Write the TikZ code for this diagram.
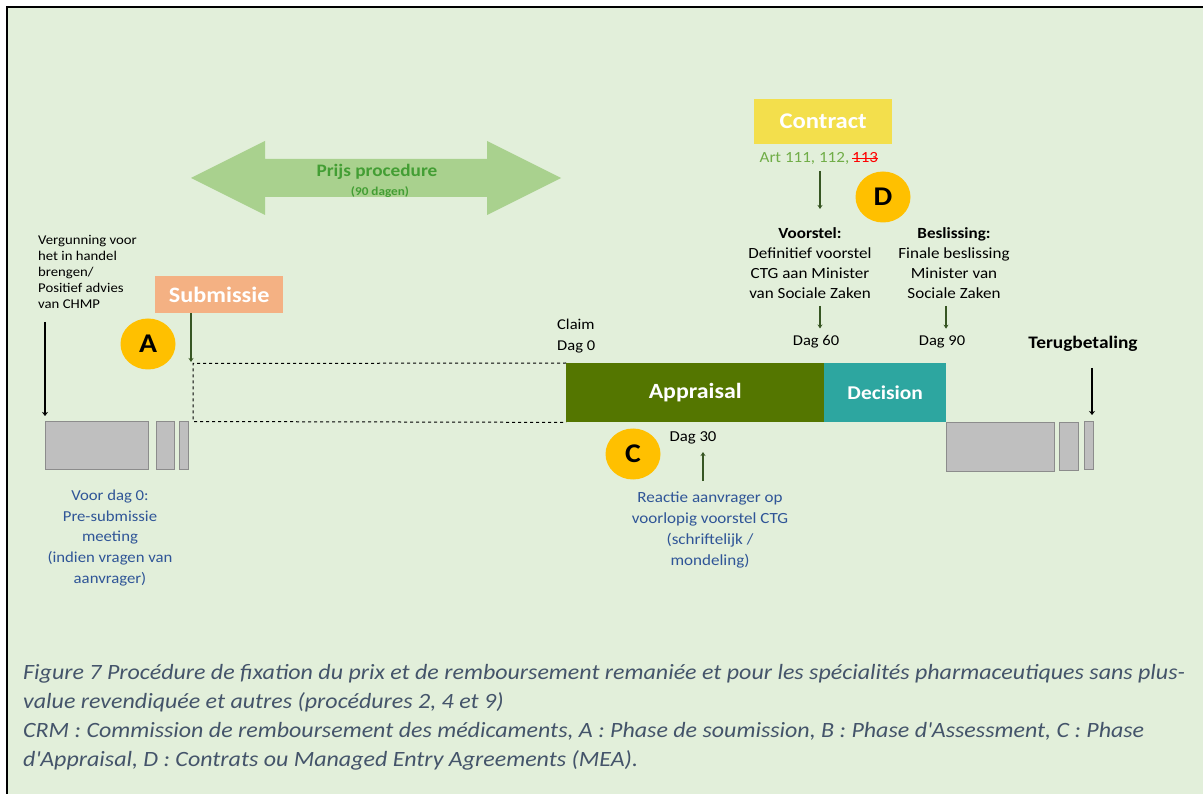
\documentclass[tikz,border=0pt]{standalone}
\usepackage{fontspec}
\setmainfont[FakeStretch=1.1]{Carlito}
\usetikzlibrary{arrows.meta,shapes.geometric}

\definecolor{panel}{HTML}{E2EFDA}
\definecolor{prijsarrow}{HTML}{A9D18E}
\definecolor{prijstext}{RGB}{67,158,52}
\definecolor{boxgray}{HTML}{BFBFBF}
\definecolor{boxedge}{HTML}{8C8C8C}
\definecolor{salmon}{HTML}{F4B183}
\definecolor{gold}{HTML}{FFC000}
\definecolor{olive}{RGB}{84,118,0}
\definecolor{teal}{RGB}{45,166,160}
\definecolor{lemon}{RGB}{243,223,76}
\definecolor{artgreen}{HTML}{70AD47}
\definecolor{darkgreen}{HTML}{375623}
\definecolor{noteblue}{HTML}{2F5597}
\definecolor{captiongray}{HTML}{44546A}

\tikzset{
  graybox/.style={draw=boxedge, line width=1pt, fill=boxgray, inner sep=0pt, anchor=north west},
  phasebox/.style={inner sep=0pt, anchor=north west, text=white, font=\bfseries},
  badge/.style={ellipse, fill=gold, inner sep=0pt, minimum width=55pt, minimum height=51pt, font=\fontsize{27}{27}\selectfont\bfseries},
  plain/.style={inner sep=0pt, text=black},
  greenarrow/.style={draw=darkgreen, line width=1.3pt, -{Stealth[length=4pt,width=5pt]}},
  blackarrow/.style={draw=black, line width=1.4pt, -{Stealth[length=4pt,width=6pt]}},
}

\begin{document}
\begin{tikzpicture}[x=1pt,y=-1pt]
\useasboundingbox (0,0) rectangle (1203,794);
\fill[white] (0,0) rectangle (1203,794);
\fill[panel] (7,7) rectangle (1203,794);
\draw[line width=2.6pt] (7,794) -- (7,7) -- (1203,7);

% price procedure double arrow
\fill[prijsarrow] (191,178) -- (265,141) -- (265,159) -- (487,159) -- (487,141)
  -- (561,178) -- (487,215) -- (487,197) -- (265,197) -- (265,215) -- cycle;
\node[inner sep=0pt, text=prijstext, font=\fontsize{17.5}{17.5}\selectfont\bfseries] (prijs) at (377,172) {Prijs procedure};
\node[inner sep=0pt, text=prijstext, font=\fontsize{12}{12}\selectfont\bfseries] (dagen) at (380,192) {(90 dagen)};

% left: marketing authorisation
\node[plain, anchor=west, align=left, font=\fontsize{13.4}{16}\selectfont] (vergunning) at (38,272)
  {Vergunning voor\\het in handel\\brengen/\\Positief advies\\van CHMP};
\node[graybox, minimum width=103pt, minimum height=48pt] (l1) at (45,421) {};
\node[graybox, minimum width=18pt, minimum height=48pt] (l2) at (156,421) {};
\node[graybox, minimum width=9pt, minimum height=48pt] (l3) at (179,421) {};
\coordinate (vtop) at (45,322);
\draw[blackarrow] (vtop) -- ([yshift=5pt]l1.north west);

% submission
\node[phasebox, fill=salmon, minimum width=128pt, minimum height=37pt, font=\fontsize{22}{22}\selectfont\bfseries] (sub) at (155,276) {Submissie};
\node[badge] (A) at (148,344) {A};
\coordinate (subtop) at (191,313);
\coordinate (subend) at (191,362);
\draw[greenarrow] (subtop) -- (subend);

% appraisal / decision bar
\node[phasebox, fill=olive, minimum width=258pt, minimum height=59pt, font=\fontsize{21.7}{21.7}\selectfont\bfseries] (appr) at (566,363) {Appraisal};
\node[phasebox, fill=teal, minimum width=122pt, minimum height=59pt, font=\fontsize{19.5}{19.5}\selectfont\bfseries] (dec) at (824,363) {Decision};
\draw[dashed, line width=1pt] (appr.north west) -- (193,363.5) -- (193,421.5) -- (appr.south west);

\node[plain, anchor=west, align=left, font=\fontsize{15}{21}\selectfont] (claim) at (557,336) {Claim\\Dag 0};

% contract
\node[phasebox, fill=lemon, minimum width=138pt, minimum height=45pt, font=\fontsize{22.4}{22.4}\selectfont\bfseries] (contract) at (754,99) {Contract};
\node[inner sep=0pt, text=artgreen, font=\fontsize{15.5}{15.5}\selectfont, anchor=base east] (art) at (852,163)
  {Art 111, 112,\,};
\node[inner sep=0pt, text=red, font=\fontsize{15.5}{15.5}\selectfont, anchor=base west] (art113) at (art.base east) {113};
\draw[red, line width=1pt] ([yshift=-0.5pt]art113.west) -- ([yshift=-0.5pt]art113.east);
\node[badge] (D) at (883,197) {D};
\coordinate (arttop) at (820,171);
\coordinate (artend) at (820,209);
\draw[greenarrow] (arttop) -- (artend);

\node[plain, align=center, font=\fontsize{15.5}{20}\selectfont] (voorstel) at (810,263)
  {\textbf{Voorstel:}\\Definitief voorstel\\CTG aan Minister\\van Sociale Zaken};
\node[plain, align=center, font=\fontsize{15.5}{20}\selectfont] (beslissing) at (954,263)
  {\textbf{Beslissing:}\\Finale beslissing\\Minister van\\Sociale Zaken};

\node[plain, font=\fontsize{15}{15}\selectfont] (d60) at (816,342) {Dag 60};
\node[plain, font=\fontsize{15}{15}\selectfont] (d90) at (942,342) {Dag 90};
\coordinate (v60) at (820,306);
\coordinate (v90) at (946,306);
\draw[greenarrow] (v60) -- ([yshift=7pt]d60.north -| v60);
\draw[greenarrow] (v90) -- ([yshift=7pt]d90.north -| v90);

% appraisal response
\node[badge] (C) at (633,454) {C};
\node[plain, font=\fontsize{15.2}{15.2}\selectfont] (d30) at (693,438) {Dag 30};
\coordinate (c30low) at (703,481);
\coordinate (c30high) at (703,452);
\draw[greenarrow] (c30low) -- (c30high);
\node[inner sep=0pt, text=noteblue, align=center, font=\fontsize{15.5}{21}\selectfont] (reactie) at (710,530)
  {Reactie aanvrager op\\voorlopig voorstel CTG\\(schriftelijk /\\mondeling)};

\node[inner sep=0pt, text=noteblue, align=center, font=\fontsize{15.2}{20.7}\selectfont] (voor) at (110,538)
  {Voor dag 0:\\Pre-submissie\\meeting\\(indien vragen van\\aanvrager)};

% reimbursement
\node[graybox, minimum width=108pt, minimum height=49pt] (r1) at (946,422) {};
\node[graybox, minimum width=19pt, minimum height=48pt] (r2) at (1059,422) {};
\node[graybox, minimum width=9pt, minimum height=48pt] (r3) at (1084,421) {};
\node[plain, font=\fontsize{17.6}{17.6}\selectfont\bfseries] (terug) at (1083,344) {Terugbetaling};
\coordinate (ttop) at (1092,368);
\draw[blackarrow, line width=1.8pt] (ttop) -- ([yshift=6pt]r3.north -| ttop);

% caption
\node[inner sep=0pt, anchor=north west, align=left, text=captiongray, font=\fontsize{21.8}{29}\selectfont\itshape] (caption) at (23,664)
  {Figure 7 Procédure de fixation du prix et de remboursement remaniée et pour les spécialités pharmaceutiques sans plus-\\
   value revendiquée et autres (procédures 2, 4 et 9)\\
   CRM : Commission de remboursement des médicaments, A : Phase de soumission, B : Phase d\textquotesingle Assessment, C : Phase\\
   d\textquotesingle Appraisal, D : Contrats ou Managed Entry Agreements (MEA).};
\end{tikzpicture}
\end{document}
